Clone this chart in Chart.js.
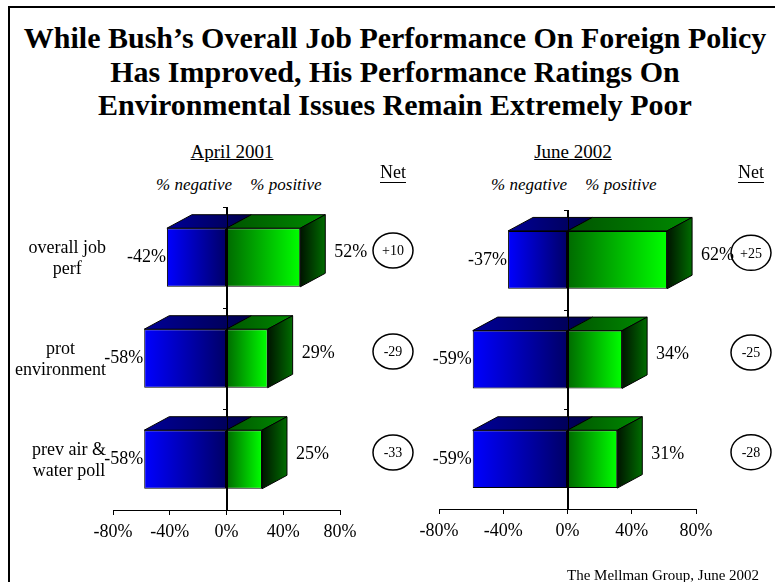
<!DOCTYPE html>
<html>
<head>
<meta charset="utf-8">
<script src="https://cdn.jsdelivr.net/npm/chart.js@4.4.1/dist/chart.umd.min.js"></script>
<style>
	body { margin: 0; background: #fff; font-family: "Liberation Serif", "Times New Roman", serif; color: #000; }
	#page { position: relative; width: 775px; height: 582px; overflow: hidden; }
	#frame { position: absolute; left: 8px; top: 6px; width: 800px; height: 600px; border-left: 2px solid #000; border-top: 2px solid #000; }
	#title { position: absolute; left: 0; top: 21px; width: 790px; text-align: center; font-weight: bold; font-size: 30px; line-height: 33.5px; }
	.t { position: absolute; white-space: nowrap; transform: translate(-50%, -50%); }
	.u { text-decoration: underline; font-size: 19px; }
	.i { font-style: italic; font-size: 17px; }
	canvas { position: absolute; top: 0; }
	#foot { position: absolute; left: 567px; top: 567px; font-size: 15px; white-space: nowrap; }
</style>
</head>
<body>
<div id="page">
	<div id="frame"></div>
	<div id="title">While Bush’s Overall Job Performance On Foreign Policy<br>Has Improved, His Performance Ratings On<br>Environmental Issues Remain Extremely Poor</div>
	<div class="t u" style="left:232px; top:152px">April 2001</div>
	<div class="t u" style="left:573px; top:152px">June 2002</div>
	<div class="t i" style="left:194px; top:185px">% negative</div>
	<div class="t i" style="left:286px; top:185px">% positive</div>
	<div class="t i" style="left:529px; top:185px">% negative</div>
	<div class="t i" style="left:621px; top:185px">% positive</div>
	<canvas id="chartApril" width="420" height="582" style="left:0"></canvas>
	<canvas id="chartJune" width="375" height="582" style="left:400px"></canvas>
	<div id="foot">The Mellman Group, June 2002</div>
</div>
<script>
	"use strict";

	var categories = [["overall job", "perf"], ["prot", "environment"], ["prev air &", "water poll"]];
	var april2001Negative = [-42, -58, -58];
	var april2001Positive = [52, 29, 25];
	var april2001Net = ["+10", "-29", "-33"];
	var june2002Negative = [-37, -59, -59];
	var june2002Positive = [62, 34, 31];
	var june2002Net = ["+25", "-25", "-28"];
	var axisTicks = [-80, -40, 0, 40, 80];

	var FONT = "'Liberation Serif', 'Times New Roman', serif";
	var DX = 25, DY = -13.5;

	// front face: light at the bar end, dark at the 0 line
	function frontFill(ctx, light, dark) {
		var chart = ctx.chart, xs = chart.scales.x;
		if (!xs || ctx.raw == null) return dark;
		var x0 = xs.getPixelForValue(0), x1 = xs.getPixelForValue(ctx.raw);
		if (!isFinite(x0) || !isFinite(x1) || x0 === x1) return dark;
		var g = chart.ctx.createLinearGradient(x1, 0, x0, 0);
		g.addColorStop(0, light);
		g.addColorStop(1, dark);
		return g;
	}

	function poly(c, pts, fill) {
		c.beginPath();
		c.moveTo(pts[0][0], pts[0][1]);
		for (var k = 1; k < pts.length; k++) c.lineTo(pts[k][0], pts[k][1]);
		c.closePath();
		c.fillStyle = fill;
		c.fill();
		c.lineWidth = 1;
		c.strokeStyle = "#000";
		c.stroke();
	}

	function grad(c, xa, xb, ca, cb) {
		var g = c.createLinearGradient(xa, 0, xb, 0);
		g.addColorStop(0, ca);
		g.addColorStop(1, cb);
		return g;
	}

	var bar3d = {
		id: "bar3d",
		afterDatasetsDraw: function (chart, args, opts) {
			var c = chart.ctx, xs = chart.scales.x, ys = chart.scales.y, area = chart.chartArea;
			var x0 = xs.getPixelForValue(0);
			var negMeta = chart.getDatasetMeta(0), posMeta = chart.getDatasetMeta(1);
			var negData = chart.data.datasets[0].data, posData = chart.data.datasets[1].data;
			c.save();
			negMeta.data.forEach(function (nb, i) {
				var pb = posMeta.data[i];
				var top = nb.y - nb.height / 2, bot = nb.y + nb.height / 2;
				var xl = nb.x, xr = pb.x;
				// top faces
				poly(c, [[xl, top], [x0, top], [x0 + DX, top + DY], [xl + DX, top + DY]], grad(c, xl, x0 + DX, "#000096", "#00004c"));
				poly(c, [[x0, top], [xr, top], [xr + DX, top + DY], [x0 + DX, top + DY]], grad(c, x0, xr + DX, "#005400", "#008a00"));
				// side face of the green end
				poly(c, [[xr, top], [xr + DX, top + DY], [xr + DX, bot + DY], [xr, bot]], grad(c, xr, xr + DX, "#001400", "#006c00"));

				// value labels
				c.fillStyle = "#000";
				c.font = "18px " + FONT;
				c.textBaseline = "middle";
				c.textAlign = "right";
				c.fillText(negData[i] + "%", xl - 1, nb.y);
				c.textAlign = "left";
				c.fillText(posData[i] + "%", xr + DX + 9, nb.y - 5);

				// net circle
				var cx = area.right + opts.netOffset, cy = nb.y - 7;
				c.beginPath();
				c.ellipse(cx, cy, 20, 17.5, 0, 0, Math.PI * 2);
				c.lineWidth = 1.5;
				c.strokeStyle = "#000";
				c.stroke();
				c.font = "14px " + FONT;
				c.textAlign = "center";
				c.fillText(opts.net[i], cx, cy + 1);

				// category label: lines centred on each other, block right-aligned
				if (opts.cats) {
					var lines = chart.data.labels[i];
					c.font = "18px " + FONT;
					var wide = 0;
					lines.forEach(function (s) { wide = Math.max(wide, c.measureText(s).width); });
					var lx = area.left - 7 - wide / 2;
					lines.forEach(function (s, k) {
						c.fillText(s, lx, ys.getPixelForValue(i) + 1.5 + (k - (lines.length - 1) / 2) * 20.5);
					});
				}
			});

			// "Net" header
			var hx = area.right + opts.netOffset;
			c.font = "18px " + FONT;
			c.textAlign = "center";
			c.textBaseline = "middle";
			c.fillText("Net", hx, 173);
			var w = c.measureText("Net").width;
			c.beginPath();
			c.moveTo(hx - w / 2, 182.5);
			c.lineTo(hx + w / 2, 182.5);
			c.lineWidth = 1;
			c.stroke();

			// 0 line on top with category ticks
			c.beginPath();
			c.moveTo(Math.round(x0) + 0.5, area.top);
			c.lineTo(Math.round(x0) + 0.5, area.bottom);
			for (var j = 0; j < chart.data.labels.length; j++) {
				var yy = Math.round(ys.getPixelForValue(j - 0.5)) + 0.5;
				c.moveTo(Math.round(x0) + 0.5, yy);
				c.lineTo(Math.round(x0) - 4, yy);
			}
			c.lineWidth = 1;
			c.strokeStyle = "#000";
			c.stroke();
			c.restore();
		}
	};

	function panel(id, neg, pos, net, showCats, pad) {
		return new Chart(document.getElementById(id), {
			type: "bar",
			data: {
				labels: categories,
				datasets: [{
					label: "% negative",
					data: neg,
					backgroundColor: function (ctx) { return frontFill(ctx, "#0000ff", "#000066"); },
					borderColor: "#000",
					borderWidth: 1,
					borderSkipped: false,
					categoryPercentage: 1,
					barPercentage: 0.58
				}, {
					label: "% positive",
					data: pos,
					backgroundColor: function (ctx) { return frontFill(ctx, "#00ff00", "#006a00"); },
					borderColor: "#000",
					borderWidth: 1,
					borderSkipped: false,
					categoryPercentage: 1,
					barPercentage: 0.58
				}]
			},
			options: {
				indexAxis: "y",
				responsive: false,
				animation: false,
				layout: { padding: pad },
				plugins: {
					legend: { display: false },
					tooltip: { enabled: false },
					bar3d: { net: net, cats: showCats, netOffset: showCats ? 53 : 55 }
				},
				scales: {
					x: {
						stacked: true,
						min: axisTicks[0],
						max: axisTicks[axisTicks.length - 1],
						afterBuildTicks: function (s) { s.ticks = axisTicks.map(function (v) { return { value: v }; }); },
						afterFit: function (s) { s.height = 40; },
						ticks: {
							callback: function (v) { return v + "%"; },
							font: { family: FONT, size: 18 },
							color: "#000",
							padding: 6,
							maxRotation: 0,
							autoSkip: false
						},
						grid: {
							color: function (ctx) { return ctx.tick && ctx.tick.value === 0 ? "#000" : "rgba(0,0,0,0)"; },
							tickColor: "#000",
							tickLength: 5,
							lineWidth: 1
						},
						border: { display: true, color: "#000", width: 1 }
					},
					y: {
						stacked: true,
						display: false
					}
				}
			},
			plugins: [bar3d]
		});
	}

	panel("chartApril", april2001Negative, april2001Positive, april2001Net, true, { top: 207, right: 80, bottom: 32, left: 113 });
	panel("chartJune", june2002Negative, june2002Positive, june2002Net, false, { top: 210, right: 79, bottom: 33, left: 39 });
</script>
</body>
</html>
